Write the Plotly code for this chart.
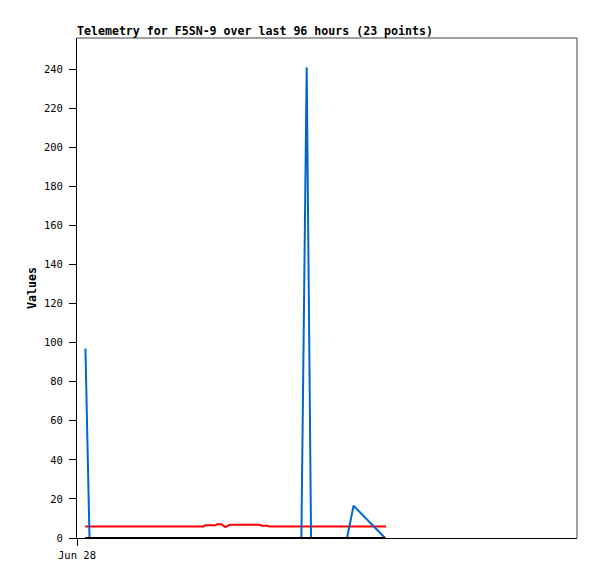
import plotly.graph_objects as go

# hours since start of the x-axis window
blue_x = [2.7, 4.0, 71.8, 73.5, 74.9, 86.4, 88.5, 98.6]
blue_y = [97, 0, 0, 241, 0, 0, 16.5, 0]

red_x = [2.6, 40.5, 41.0, 44.3, 44.8, 46.2, 47.5, 48.9, 58.5, 59.0, 61.0, 61.5, 98.9]
red_y = [5.9, 5.9, 6.5, 6.5, 7.0, 7.0, 5.6, 6.8, 6.8, 6.3, 6.3, 5.9, 5.9]

zero_x = [2.6, 98.6]
zero_y = [0, 0]

y_ticks = list(range(0, 241, 20))
x_tick_vals = [0]
x_tick_text = ["Jun 28"]

title = "Telemetry for F5SN-9 over last 96 hours (23 points)"
mono = "DejaVu Sans Mono"

W, H = 589, 571

fig = go.Figure()
fig.add_trace(go.Scatter(x=red_x, y=red_y, mode="lines",
                         line=dict(color="#FF0000", width=2), showlegend=False))
fig.add_trace(go.Scatter(x=blue_x, y=blue_y, mode="lines",
                         line=dict(color="#0066CC", width=2), showlegend=False))
fig.add_trace(go.Scatter(x=zero_x, y=zero_y, mode="lines",
                         line=dict(color="#000000", width=2), showlegend=False))

fig.update_layout(
    width=W, height=H,
    margin=dict(l=69, r=20, t=30, b=41),
    paper_bgcolor="white", plot_bgcolor="white",
    font=dict(family=mono, size=10.5, color="#000000"),
    title=dict(text="<b>" + title + "</b>", x=69/W, xanchor="left",
               y=1 - 23/H, yanchor="middle",
               font=dict(family=mono, size=11.6, color="#000000")),
    xaxis=dict(range=[0, 160], tickmode="array", tickvals=x_tick_vals,
               ticktext=x_tick_text, ticks="outside", ticklen=7,
               tickcolor="#000000", showgrid=False, zeroline=False,
               showline=True, linecolor="#000000", linewidth=1),
    yaxis=dict(range=[0, 256], tickmode="array", tickvals=y_ticks,
               ticks="outside", ticklen=7, tickcolor="#000000",
               ticklabelstandoff=4,
               showgrid=False, zeroline=False, showline=True,
               linecolor="#000000", linewidth=1,
               title=dict(text="<b>Values</b>", standoff=4,
                          font=dict(family=mono, size=11.6))),
    shapes=[dict(type="line", xref="paper", yref="paper", x0=0, x1=1, y0=1, y1=1,
                 line=dict(color="#444444", width=1)),
            dict(type="line", xref="paper", yref="paper", x0=1, x1=1, y0=0, y1=1,
                 line=dict(color="#444444", width=1))],
)

fig.write_html("out.html")
